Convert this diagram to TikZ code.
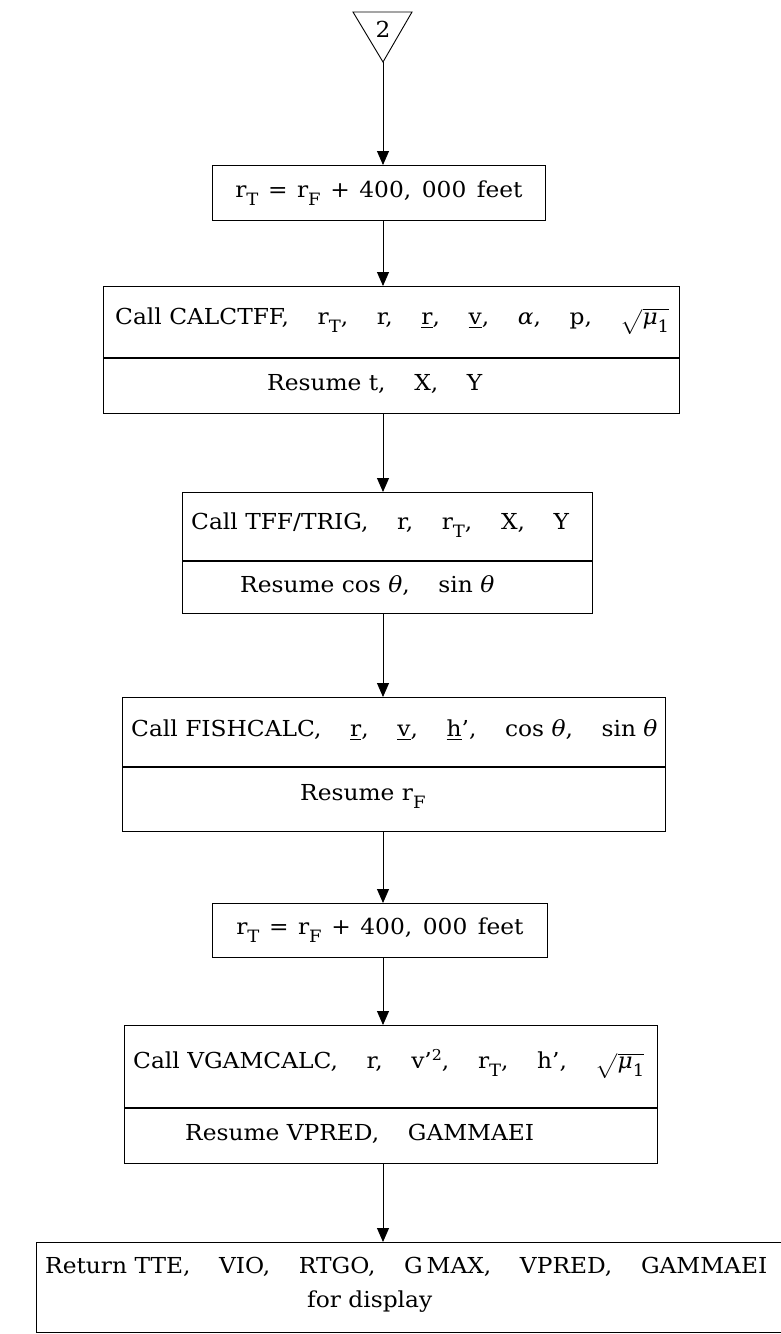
\documentclass[tikz,border=0pt]{standalone}
\usepackage{amsmath}
\usepackage{graphicx}
\usepackage{fontspec}
\setmainfont{DejaVu Serif}
\usetikzlibrary{arrows.meta}
\newcommand\gp{\hspace{27pt}}
\newcommand\tx[1]{\scalebox{1.06}[1]{#1}}
\newcommand\sbs[1]{\raisebox{-0.7ex}{\fontsize{17}{17}\selectfont #1}}
\newcommand\sps[1]{\raisebox{0.75ex}{\fontsize{15}{15}\selectfont #1}}
\newcommand\gk[1]{{\itshape #1}}
\newcommand\rootmu{$\sqrt{\text{\itshape μ}\sbs{1}}$}
\newcommand\eqline{r\sbs{T}\hspace{9pt}=\hspace{9pt}r\sbs{F}\hspace{9pt}+\hspace{9pt}400,\hspace{10pt}000\hspace{10pt}feet}
\begin{document}
\begin{tikzpicture}[x=1pt,y=-1pt,
  every node/.style={font=\fontsize{22}{27}\selectfont, inner sep=0pt},
  bx/.style={draw, line width=0.9pt, anchor=north west},
  lbl/.style={anchor=west},
  flow/.style={line width=0.9pt, -{Triangle[length=14pt,width=12pt]}}]
\useasboundingbox (0,0) rectangle (781,1334);
% start connector triangle
\draw[line width=0.9pt] (353,12) -- (412,12) -- (383,62) -- cycle;
\node (two) at (383,29) {\tx{2}};
\coordinate (tri) at (383,62);
% box 1
\node[bx, minimum width=333pt, minimum height=55pt] (b1) at (212,165) {\tx{\eqline}};
% box 2
\node[bx, minimum width=576pt, minimum height=71pt] (b2a) at (103,286) {};
\node[bx, minimum width=576pt, minimum height=55pt] (b2b) at (b2a.south west) {};
\node[lbl] (t2a) at (115,321) {\tx{Call CALCTFF,\gp r\sbs{T},\gp r,\gp \underline{r},\gp \underline{v},\gp \gk{α},\gp p,\gp \rootmu}};
\node[lbl] (t2b) at (267,384) {\tx{Resume t,\gp X,\gp Y}};
% box 3
\node[bx, minimum width=410pt, minimum height=68pt] (b3a) at (182,492) {};
\node[bx, minimum width=410pt, minimum height=52pt] (b3b) at (b3a.south west) {};
\node[lbl] (t3a) at (191,525) {\tx{Call TFF/TRIG,\gp r,\gp r\sbs{T},\gp X,\gp Y}};
\node[lbl] (t3b) at (240,586) {\tx{Resume cos \gk{θ},\gp sin \gk{θ}}};
% box 4
\node[bx, minimum width=543pt, minimum height=69pt] (b4a) at (122,697) {};
\node[bx, minimum width=543pt, minimum height=64pt] (b4b) at (b4a.south west) {};
\node[lbl] (t4a) at (131,730) {\tx{Call FISHCALC,\gp \underline{r},\gp \underline{v},\gp \underline{h}',\gp cos \gk{θ},\gp sin \gk{θ}}};
\node[lbl] (t4b) at (300,796) {\tx{Resume r\sbs{F}}};
% box 5
\node[bx, minimum width=335pt, minimum height=54pt] (b5) at (212,903) {\tx{\eqline}};
% box 6
\node[bx, minimum width=533pt, minimum height=82pt] (b6a) at (124,1025) {};
\node[bx, minimum width=533pt, minimum height=55pt] (b6b) at (b6a.south west) {};
\node[lbl] (t6a) at (133,1064) {\tx{Call VGAMCALC,\gp r,\gp v'\sps{2},\gp r\sbs{T},\gp h',\gp \rootmu}};
\node[lbl] (t6b) at (185,1134) {\tx{Resume VPRED,\gp GAMMAEI}};
% box 7
\node[bx, minimum width=780pt, minimum height=90pt] (b7) at (36,1242) {};
\node[lbl] (t7a) at (45,1267) {\tx{Return TTE,\gp VIO,\gp RTGO,\gp G\,MAX,\gp VPRED,\gp GAMMAEI}};
\node[lbl] (t7b) at (307,1302) {\tx{for display}};
% connectors
\draw[flow] (tri) -- (b1.north -| tri);
\draw[flow] (b1.south -| tri) -- (b2a.north -| tri);
\draw[flow] (b2b.south -| tri) -- (b3a.north -| tri);
\draw[flow] (b3b.south -| tri) -- (b4a.north -| tri);
\draw[flow] (b4b.south -| tri) -- (b5.north -| tri);
\draw[flow] (b5.south -| tri) -- (b6a.north -| tri);
\draw[flow] (b6b.south -| tri) -- (b7.north -| tri);
\end{tikzpicture}
\end{document}
